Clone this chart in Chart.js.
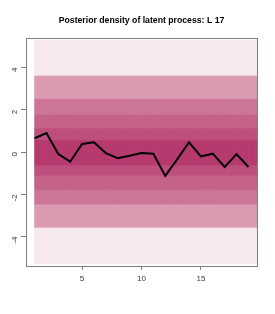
<!DOCTYPE html>
<html>
<head>
<meta charset="utf-8">
<script src="https://cdn.jsdelivr.net/npm/chart.js@4/dist/chart.umd.min.js"></script>
<style>
  html, body { margin: 0; padding: 0; background: #fff; }
  canvas { display: block; }
</style>
</head>
<body>
<canvas id="latentChart" width="275" height="314"></canvas>
<script>
// time points of the latent process
const timePoints = [1, 2, 3, 4, 5, 6, 7, 8, 9, 10, 11, 12, 13, 14, 15, 16, 17, 18, 19];
// posterior mean (black line)
const latentMean = [0.65, 0.9, -0.1, -0.46, 0.38, 0.46, -0.05, -0.29, -0.18, -0.05,
                    -0.08, -1.13, -0.35, 0.46, -0.21, -0.08, -0.71, -0.1, -0.71];
// density band edges, from bottom to top
const bandEdges = [-5.3, -3.6, -2.5, -1.8, -1.13, -0.65, 0.55, 1.1, 1.75, 2.5, 3.6, 5.3];
const xTicks = [5, 10, 15];
const yTicks = [-4, -2, 0, 2, 4];
const titleText = 'Posterior density of latent process: L 17';

// one colour per band, lightest at the tails
const bandColors = ['#f6e8ee', '#da9ab2', '#cc7598', '#c5628a', '#be4e7d', '#b63a70',
                    '#be4e7d', '#c5628a', '#cc7598', '#da9ab2', '#f6e8ee'];

const fontFamily = "'Liberation Sans', Arial, sans-serif";

// box round the plot and a title centred over the plot region, like base R
const framePlugin = {
    id: 'frame',
    afterDatasetsDraw(chart) {
        const { ctx, chartArea: a } = chart;
        ctx.save();
        ctx.strokeStyle = '#7f7f7f';
        ctx.lineWidth = 1;
        ctx.strokeRect(Math.round(a.left) + 0.5, Math.round(a.top) + 0.5,
                       Math.round(a.right - a.left), Math.round(a.bottom - a.top));
        ctx.fillStyle = '#000';
        ctx.font = `bold 8.7px ${fontFamily}`;
        ctx.textAlign = 'center';
        ctx.textBaseline = 'middle';
        ctx.fillText(titleText, (a.left + a.right) / 2, 20.5);
        ctx.restore();
    }
};

const bandSets = bandColors.map((color, k) => ({
    type: 'bar',
    data: timePoints.map(t => ({ x: t + 0.5, y: [bandEdges[k], bandEdges[k + 1]] })),
    backgroundColor: color,
    borderWidth: 0,
    barPercentage: 1,
    categoryPercentage: 1,
    grouped: false,
    order: 1,
}));

new Chart(document.getElementById('latentChart').getContext('2d'), {
    type: 'bar',
    data: {
        datasets: [
            ...bandSets,
            {
                type: 'line',
                data: timePoints.map((t, i) => ({ x: t, y: latentMean[i] })),
                borderColor: '#000',
                borderWidth: 2,
                pointRadius: 0,
                tension: 0,
                order: 0,
            },
        ],
    },
    options: {
        responsive: false,
        animation: false,
        devicePixelRatio: 1,
        layout: { padding: { left: 0, right: 18, top: 38, bottom: 0 } },
        plugins: {
            legend: { display: false },
            tooltip: { enabled: false },
            title: { display: false },
        },
        scales: {
            x: {
                type: 'linear',
                min: 0.28,
                max: 19.72,
                offset: false,
                afterBuildTicks: (scale) => { scale.ticks = xTicks.map(v => ({ value: v })); },
                afterFit: (scale) => { scale.height = 48; },
                grid: { offset: false, drawOnChartArea: false, tickLength: 4, tickColor: '#7f7f7f' },
                border: { display: false },
                ticks: { color: '#333', font: { family: fontFamily, size: 8 }, padding: 4, maxRotation: 0 },
            },
            y: {
                min: -5.4,
                max: 5.4,
                afterBuildTicks: (scale) => { scale.ticks = yTicks.map(v => ({ value: v })); },
                afterFit: (scale) => { scale.width = 26; },
                grid: { drawOnChartArea: false, tickLength: 5, tickColor: '#7f7f7f' },
                border: { display: false },
                ticks: { color: '#333', font: { family: fontFamily, size: 8 }, padding: 6.5, minRotation: 90, maxRotation: 90 },
            },
        },
    },
    plugins: [framePlugin],
});
</script>
</body>
</html>
